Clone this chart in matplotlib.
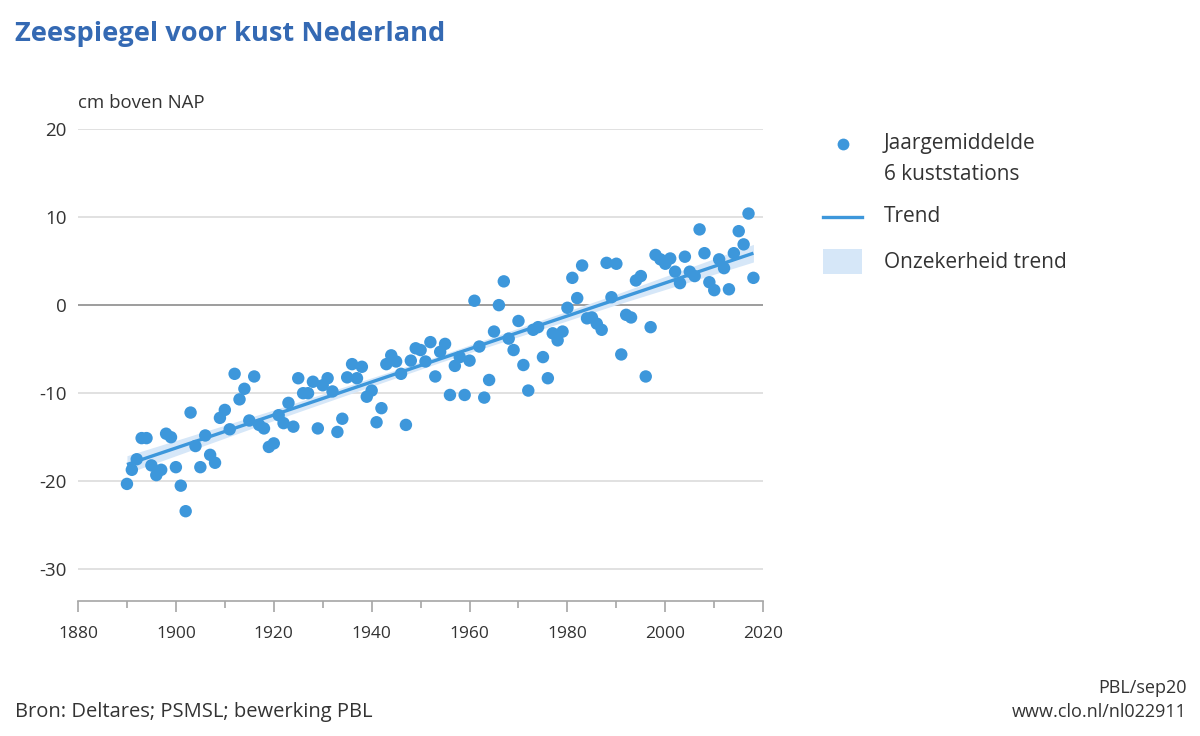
import matplotlib.pyplot as plt
from matplotlib.patches import Rectangle
from matplotlib.lines import Line2D

# jaargemiddelde zeespiegel, 6 kuststations (cm t.o.v. NAP)
jaren = list(range(1890, 2019))
zeespiegel = [
    -20.3, -18.7, -17.5, -15.1, -15.1, -18.2, -19.3, -18.7, -14.6, -15.0,   # 1890-1899
    -18.4, -20.5, -23.4, -12.2, -16.0, -18.4, -14.8, -17.0, -17.9, -12.8,   # 1900-1909
    -11.9, -14.1, -7.8, -10.7, -9.5, -13.1, -8.1, -13.6, -14.0, -16.1,      # 1910-1919
    -15.7, -12.5, -13.4, -11.1, -13.8, -8.3, -10.0, -10.0, -8.7, -14.0,     # 1920-1929
    -9.1, -8.3, -9.8, -14.4, -12.9, -8.2, -6.7, -8.3, -7.0, -10.4,          # 1930-1939
    -9.7, -13.3, -11.7, -6.7, -5.7, -6.4, -7.8, -13.6, -6.3, -4.9,          # 1940-1949
    -5.1, -6.4, -4.2, -8.1, -5.3, -4.4, -10.2, -6.9, -5.9, -10.2,           # 1950-1959
    -6.3, 0.5, -4.7, -10.5, -8.5, -3.0, 0.0, 2.7, -3.8, -5.1,               # 1960-1969
    -1.8, -6.8, -9.7, -2.8, -2.5, -5.9, -8.3, -3.2, -4.0, -3.0,             # 1970-1979
    -0.3, 3.1, 0.8, 4.5, -1.5, -1.4, -2.1, -2.8, 4.8, 0.9,                  # 1980-1989
    4.7, -5.6, -1.1, -1.4, 2.8, 3.3, -8.1, -2.5, 5.7, 5.2,                  # 1990-1999
    4.7, 5.3, 3.8, 2.5, 5.5, 3.8, 3.3, 8.6, 5.9, 2.6,                       # 2000-2009
    1.7, 5.2, 4.2, 1.8, 5.9, 8.4, 6.9, 10.4, 3.1,                           # 2010-2018
]

# lineaire trend en onzekerheidsband
trend_jaren = [1890, 1920, 1954, 1990, 2018]
trend_waarden = [-18.1, -12.5, -6.1, 0.65, 5.9]
trend_marge = [1.0, 0.6, 0.4, 0.6, 1.0]

x_ticks = list(range(1880, 2021, 20))
x_minor = list(range(1890, 2020, 20))
y_ticks = [20, 10, 0, -10, -20, -30]

blauw = '#3d97db'
band = '#d6e7f8'
titel_blauw = '#3469b3'
tekst = '#333333'

plt.rcParams['font.family'] = ['Open Sans', 'DejaVu Sans']

fig = plt.figure(figsize=(12, 7.36), dpi=100)
ax = fig.add_axes([0.065, 0.1834, 0.571, 0.6413])

ax.set_xlim(1880, 2020)
ax.set_ylim(-33.6, 20)

for y in y_ticks:
    if y == 0:
        ax.axhline(y, color='#8c8c8c', lw=1.2, zorder=1)
    else:
        ax.axhline(y, color='#dcdcdc', lw=1.2, zorder=1)

onder = [w - m for w, m in zip(trend_waarden, trend_marge)]
boven = [w + m for w, m in zip(trend_waarden, trend_marge)]
ax.fill_between(trend_jaren, onder, boven, color=band, lw=0, zorder=2)
ax.plot([trend_jaren[0], trend_jaren[-1]], [trend_waarden[0], trend_waarden[-1]],
        color=blauw, lw=2.4, zorder=3, solid_capstyle='butt')
ax.scatter(jaren, zeespiegel, s=80, color=blauw, edgecolor='none', zorder=4)

for s in ['top', 'right', 'left']:
    ax.spines[s].set_visible(False)
ax.spines['bottom'].set_color('#a6a6a6')
ax.spines['bottom'].set_linewidth(1.2)

ax.set_xticks(x_ticks)
ax.set_xticks(x_minor, minor=True)
ax.tick_params(axis='x', which='major', length=8, width=1.2, color='#a6a6a6',
               labelsize=12.5, labelcolor=tekst, pad=10)
ax.tick_params(axis='x', which='minor', length=5, width=1.2, color='#a6a6a6')
ax.set_yticks(y_ticks)
ax.set_yticklabels([str(v) for v in y_ticks])
ax.tick_params(axis='y', length=0, labelsize=13.5, labelcolor=tekst, pad=8)

# titel, eenheid, bron
fig.text(15 / 1200, 1 - 34 / 736, 'Zeespiegel voor kust Nederland', fontsize=19.6,
         fontweight='bold', color=titel_blauw, va='center', ha='left')
fig.text(78 / 1200, 1 - 103 / 736, 'cm boven NAP', fontsize=13.4, color=tekst,
         va='center', ha='left')
fig.text(15 / 1200, 1 - 712 / 736, 'Bron: Deltares; PSMSL; bewerking PBL', fontsize=14.5,
         color=tekst, va='center', ha='left')
fig.text(1187 / 1200, 1 - 688 / 736, 'PBL/sep20', fontsize=13, color=tekst,
         va='center', ha='right')
fig.text(1187 / 1200, 1 - 712 / 736, 'www.clo.nl/nl022911', fontsize=13, color=tekst,
         va='center', ha='right')

# legenda
lg = fig.add_axes([0, 0, 1, 1], facecolor='none')
lg.set_xlim(0, 1200)
lg.set_ylim(736, 0)
lg.axis('off')
lg.add_line(Line2D([843], [144], marker='o', markersize=8.5, color=blauw,
                   markeredgewidth=0, linestyle='none'))
lg.text(884, 144, 'Jaargemiddelde', fontsize=15, color=tekst, va='center')
lg.text(884, 174, '6 kuststations', fontsize=15, color=tekst, va='center')
lg.add_line(Line2D([823, 862], [217, 217], color=blauw, lw=2.4))
lg.text(884, 217, 'Trend', fontsize=15, color=tekst, va='center')
lg.add_patch(Rectangle((823, 249), 39, 25, color=band, lw=0))
lg.text(884, 262, 'Onzekerheid trend', fontsize=15, color=tekst, va='center')

fig.savefig('out.png', dpi=100)
